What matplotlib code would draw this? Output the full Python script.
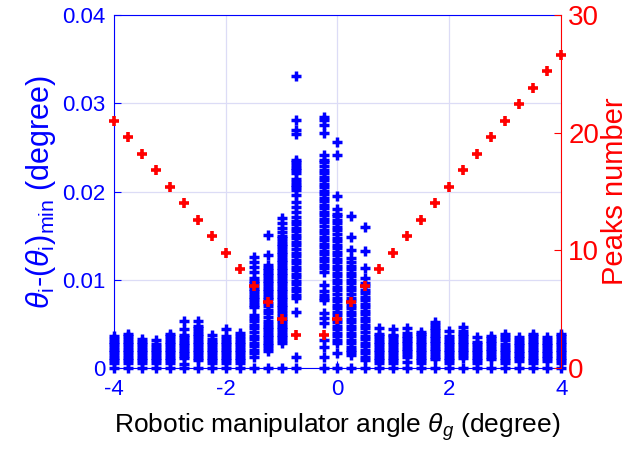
import matplotlib
matplotlib.use("Agg")
import matplotlib.pyplot as plt

plt.rcParams['font.family'] = ['Liberation Sans', 'DejaVu Sans']
plt.rcParams['mathtext.fontset'] = 'custom'
plt.rcParams['mathtext.rm'] = 'Liberation Sans'
plt.rcParams['mathtext.it'] = 'Liberation Sans:italic'
plt.rcParams['axes.unicode_minus'] = False

# manipulator angles (degree); no measurement at -0.5
angles = [-4, -3.75, -3.5, -3.25, -3, -2.75, -2.5, -2.25, -2, -1.75, -1.5, -1.25, -1, -0.75,
          -0.25, 0, 0.25, 0.5, 0.75, 1, 1.25, 1.5, 1.75, 2, 2.25, 2.5, 2.75, 3, 3.25, 3.5, 3.75, 4]

# peaks number at each angle (right axis)
peaks = [21.0, 19.6, 18.2, 16.8, 15.4, 14.0, 12.6, 11.2, 9.8, 8.4, 7.0, 5.6, 4.2, 2.8,
         2.8, 4.2, 5.6, 7.0, 8.4, 9.8, 11.2, 12.6, 14.0, 15.4, 16.8, 18.2, 19.6, 21.0, 22.4, 23.8, 25.2, 26.6]

# theta_i - (theta_i)_min values at each angle (left axis)
spread = [
    [0, .0006, .0009, .0012, .0015, .0018, .0021, .0024, .0027, .0030, .0033, .0036],
    [0, .0006, .0009, .0012, .0015, .0018, .0021, .0024, .0027, .0030, .0033, .0036, .0039],
    [0, .0006, .0009, .0012, .0015, .0018, .0021, .0024, .0027, .0030, .0033],
    [0, .0006, .0009, .0012, .0015, .0018, .0021, .0024, .0027, .0032],
    [0, .0006, .0009, .0012, .0015, .0018, .0021, .0024, .0027, .0030, .0033, .0036, .0039],
    [0, .0005, .0011, .0014, .0017, .0020, .0023, .0026, .0029, .0032, .0035, .0038, .0044, .0053],
    [0, .0009, .0012, .0015, .0018, .0021, .0024, .0027, .0030, .0033, .0036, .0039, .0042, .0045, .0048, .0053],
    [0, .0006, .0009, .0012, .0015, .0018, .0021, .0024, .0027, .0030, .0033, .0038],
    [0, .0006, .0009, .0012, .0015, .0018, .0021, .0024, .0027, .0030, .0033, .0037, .0044],
    [0, .0006, .0009, .0012, .0015, .0018, .0021, .0024, .0027, .0030, .0033, .0036, .0040],
    [0, .0013, .0017, .0021, .0025, .0029, .0033, .0037, .0041, .0045, .0049, .0053, .0057, .0060,
     .0069, .0072, .0075, .0078, .0081, .0084, .0087, .0090, .0093, .0096, .0099, .0102, .0109, .0115, .0120, .0126],
    [0, .0020, .0023, .0026, .0029, .0032, .0035, .0038, .0041, .0044, .0047, .0050, .0054, .0058, .0062,
     .0066, .0070, .0074, .0078, .0081, .0084, .0087, .0090, .0093, .0096, .0099, .0102, .0105, .0108,
     .0111, .0114, .0117, .0128, .0151],
    [0, .0028, .0032, .0035, .0038, .0041, .0044, .0047, .0050, .0053, .0056, .0059, .0062, .0066, .0069,
     .0072, .0075, .0078, .0081, .0084, .0087, .0090, .0093, .0096, .0099, .0102, .0105, .0108, .0111,
     .0114, .0117, .0120, .0123, .0126, .0129, .0132, .0135, .0138, .0141, .0144, .0147, .0150, .0154,
     .0159, .0164, .0170],
    [0, .0013, .0064, .0079, .0083, .0087, .0091, .0095, .0099, .0103, .0107, .0111, .0115, .0119, .0123,
     .0127, .0131, .0135, .0139, .0143, .0147, .0151, .0155, .0159, .0163, .0167, .0171, .0177, .0183,
     .0188, .0196, .0202, .0205, .0208, .0211, .0214, .0221, .0224, .0227, .0230, .0233, .0236, .0265,
     .0270, .0281, .0331],
    [0, .0013, .0024, .0032, .0051, .0057, .0062, .0077, .0080, .0083, .0087, .0094, .0109, .0113, .0117,
     .0121, .0125, .0129, .0133, .0137, .0141, .0145, .0149, .0153, .0157, .0161, .0165, .0169, .0173,
     .0177, .0181, .0185, .0189, .0193, .0197, .0201, .0205, .0209, .0213, .0217, .0221, .0225, .0229,
     .0233, .0236, .0241, .0266, .0275, .0281, .0285],
    [0, .0017, .0028, .0032, .0036, .0040, .0044, .0048, .0052, .0056, .0060, .0064, .0068, .0072, .0076,
     .0080, .0084, .0088, .0092, .0096, .0100, .0104, .0108, .0112, .0116, .0120, .0124, .0128, .0132,
     .0136, .0140, .0144, .0148, .0152, .0156, .0160, .0164, .0168, .0172, .0175, .0180, .0195, .0242, .0256],
    [0, .0015, .0018, .0021, .0024, .0028, .0032, .0036, .0040, .0044, .0048, .0052, .0056, .0060, .0064,
     .0068, .0072, .0076, .0080, .0084, .0088, .0092, .0096, .0100, .0104, .0108, .0112, .0116, .0120,
     .0125, .0134, .0149, .0172],
    [0, .0009, .0013, .0017, .0021, .0025, .0029, .0033, .0037, .0041, .0045, .0049, .0053, .0057, .0061,
     .0065, .0069, .0073, .0077, .0081, .0085, .0089, .0093, .0097, .0102, .0113, .0133, .0160],
    [0, .0006, .0009, .0012, .0015, .0018, .0021, .0024, .0027, .0030, .0033, .0036, .0039, .0046],
    [0, .0006, .0009, .0012, .0015, .0018, .0021, .0024, .0027, .0030, .0033, .0036, .0038, .0044],
    [0, .0007, .0013, .0016, .0019, .0022, .0025, .0028, .0031, .0034, .0037, .0040, .0046],
    [0, .0006, .0009, .0012, .0015, .0018, .0021, .0024, .0027, .0030, .0033, .0036, .0039, .0041],
    [0, .0010, .0013, .0016, .0019, .0022, .0025, .0028, .0031, .0034, .0037, .0040, .0043, .0046, .0049, .0052],
    [0, .0006, .0009, .0012, .0015, .0018, .0021, .0024, .0027, .0030, .0033, .0036, .0042],
    [0, .0012, .0015, .0018, .0021, .0024, .0027, .0030, .0033, .0036, .0039, .0042, .0047],
    [0, .0006, .0009, .0012, .0015, .0018, .0021, .0024, .0027, .0030, .0035],
    [0, .0010, .0013, .0016, .0019, .0022, .0025, .0028, .0031, .0034, .0036],
    [0, .0006, .0009, .0012, .0015, .0018, .0021, .0024, .0027, .0032, .0035, .0039],
    [0, .0008, .0011, .0014, .0017, .0020, .0023, .0026, .0029, .0032, .0035],
    [0, .0006, .0009, .0012, .0015, .0018, .0021, .0024, .0027, .0030, .0033, .0036, .0039],
    [0, .0008, .0011, .0014, .0017, .0020, .0023, .0026, .0029, .0032, .0035],
    [0, .0006, .0009, .0012, .0015, .0018, .0021, .0024, .0027, .0030, .0033, .0036, .0039],
]

fig = plt.figure(figsize=(6.32, 4.54), dpi=100)
ax = fig.add_axes([0.180, 0.189, 0.708, 0.778])
ax2 = ax.twinx()

for a, vals in zip(angles, spread):
    ax.plot([a] * len(vals), vals, '+', color='#0000ff', ms=7, mew=2.5, clip_on=False, zorder=3)

ax2.plot(angles, peaks, '+', color='#ff0000', ms=7, mew=2.6, clip_on=False, zorder=3)

ax.set_xlim(-4, 4)
ax.set_ylim(0, 0.04)
ax2.set_ylim(0, 30)
ax.set_xticks([-4, -2, 0, 2, 4])
ax.set_xticklabels(['-4', '-2', '0', '2', '4'])
ax.set_yticks([0, 0.01, 0.02, 0.03, 0.04])
ax.set_yticklabels(['0', '0.01', '0.02', '0.03', '0.04'])
ax2.set_yticks([0, 10, 20, 30])

ax.grid(True, color='#dcdcf6', lw=0.9)
ax.set_axisbelow(True)

ax.tick_params(axis='x', direction='in', colors='#0000ff', labelsize=16, length=5, pad=8)
ax.tick_params(axis='y', direction='in', colors='#0000ff', labelsize=16, length=5, pad=6)
ax2.tick_params(axis='y', direction='in', colors='#ff0000', labelsize=20, length=5, pad=5)

for s in ['left', 'top', 'bottom']:
    ax.spines[s].set_color('#0000ff')
    ax2.spines[s].set_visible(False)
ax.spines['right'].set_visible(False)
ax2.spines['right'].set_color('#ff0000')

ax.set_xlabel(r'Robotic manipulator angle $\theta_g$ (degree)', fontsize=19, color='black', labelpad=8)
ax.set_ylabel(r'$\theta_\mathrm{i}$-$(\theta_\mathrm{i})_\mathrm{min}$ (degree)', fontsize=22,
              color='#0000ff', labelpad=3)
ax2.set_ylabel('Peaks number', fontsize=21, color='#ff0000', labelpad=1)

fig.savefig('out.png', dpi=100)
